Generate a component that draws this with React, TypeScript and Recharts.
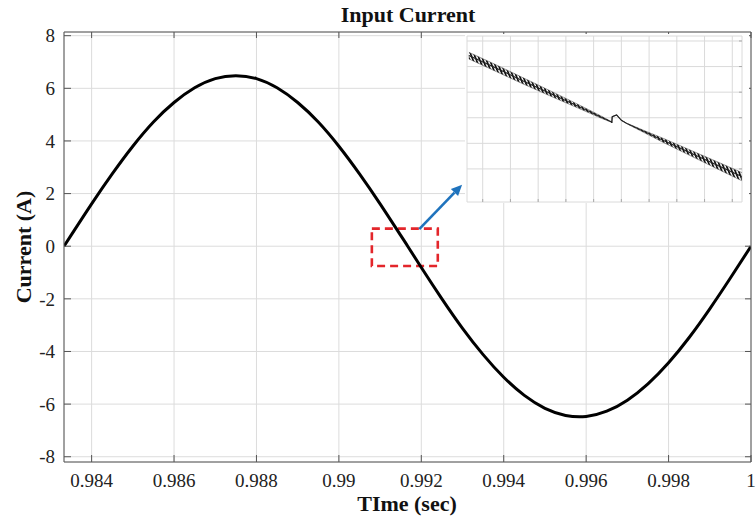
import React from 'react';
import {
  LineChart,
  ComposedChart,
  Line,
  Area,
  XAxis,
  YAxis,
  CartesianGrid,
  ReferenceArea,
  ReferenceLine,
} from 'recharts';

// main trace: input current vs time
const TIME = [
  0.98333, 0.9835, 0.984, 0.9845, 0.985, 0.9855, 0.986, 0.9865, 0.987, 0.9875,
  0.988, 0.9885, 0.989, 0.9895, 0.99, 0.9905, 0.991, 0.9915, 0.99167, 0.992,
  0.9925, 0.993, 0.9935, 0.994, 0.9945, 0.995, 0.9955, 0.996, 0.9965, 0.997,
  0.9975, 0.998, 0.9985, 0.999, 0.9995, 1.0,
];
const CURRENT = [
  0, 0.41, 1.61, 2.75, 3.8, 4.72, 5.46, 6.02, 6.37, 6.48,
  6.37, 6.02, 5.46, 4.72, 3.8, 2.75, 1.61, 0.41, 0, -0.81,
  -2.0, -3.12, -4.12, -4.98, -5.67, -6.16, -6.43, -6.47, -6.27, -5.85,
  -5.23, -4.43, -3.47, -2.38, -1.21, 0,
];
const X_TICKS = [0.984, 0.986, 0.988, 0.99, 0.992, 0.994, 0.996, 0.998, 1];
const Y_TICKS = [-8, -6, -4, -2, 0, 2, 4, 6, 8];

// zoomed inset (arbitrary grid units), centre of trace + ripple half-width
const INSET_X = [0.5, 1.5, 2.5, 3.5, 4.5, 5.3, 5.65, 5.655, 5.67, 5.83, 6.0, 6.19, 6.8, 7.5, 8.5, 9.5, 10.34];
const INSET_Y = [6.43, 5.93, 5.42, 4.92, 4.42, 4.01, 3.83, 3.8, 4.04, 4.11, 3.9, 3.78, 3.47, 3.12, 2.62, 2.12, 1.7];
const INSET_RIPPLE = [0.13, 0.13, 0.12, 0.1, 0.07, 0.04, 0.01, 0, 0, 0, 0, 0.01, 0.04, 0.08, 0.11, 0.14, 0.16];
const INSET_X_TICKS = [1, 2, 3, 4, 5, 6, 7, 8, 9, 10];
const INSET_Y_TICKS = [1, 2, 3, 4, 5, 6, 7];

const mainData = TIME.map((t, i) => ({ t, i: CURRENT[i] }));
const insetData = INSET_X.map((x, k) => ({
  x,
  y: INSET_Y[k],
  band: [INSET_Y[k] - INSET_RIPPLE[k], INSET_Y[k] + INSET_RIPPLE[k]],
}));

const FONT = '"Liberation Serif", "Times New Roman", serif';
const AXIS = '#555';
const GRID = '#dcdcdc';
const noLabel = () => <g />;

const XTick = (p: any) => (
  <text x={p.x} y={p.y} dy="0.71em" textAnchor="middle" fontFamily={FONT} fontSize={19} fill="#222">
    {p.payload.value}
  </text>
);
const YTick = (p: any) => (
  <text x={p.x} y={p.y} dy="0.355em" textAnchor="end" fontFamily={FONT} fontSize={19} fill="#222">
    {p.payload.value}
  </text>
);

const Arrow = (p: any) => {
  const { x1, y1, x2, y2 } = p;
  const a = Math.atan2(y2 - y1, x2 - x1);
  const L = 11;
  const W = 5;
  const bx = x2 - L * Math.cos(a);
  const by = y2 - L * Math.sin(a);
  const pts = `${x2},${y2} ${bx + W * Math.sin(a)},${by - W * Math.cos(a)} ${bx - W * Math.sin(a)},${by + W * Math.cos(a)}`;
  return (
    <g>
      <line x1={x1} y1={y1} x2={bx} y2={by} stroke="#1f73bd" strokeWidth={2.6} />
      <polygon points={pts} fill="#1f73bd" />
    </g>
  );
};

export default function App() {
  const xDom: [number, number] = [0.98333, 1];
  const yDom: [number, number] = [-8.2, 8.14];
  const ixDom: [number, number] = [0.434, 10.35];
  const iyDom: [number, number] = [0.707, 7.195];
  return (
    <div style={{ position: 'absolute', left: 0, top: 0, width: 756, height: 523, background: '#fff' }}>
      <svg width={0} height={0} style={{ position: 'absolute' }}>
        <defs>
          <pattern id="ripple" width={3.1} height={4} patternUnits="userSpaceOnUse" patternTransform="rotate(-22)">
            <rect x={0} y={0} width={1.7} height={4} fill="#111" />
          </pattern>
        </defs>
      </svg>

      <LineChart width={756} height={523} data={mainData} margin={{ top: 32, right: 5, bottom: 0, left: 0 }}>
        <CartesianGrid stroke={GRID} />
        <XAxis
          dataKey="t"
          type="number"
          domain={xDom}
          ticks={X_TICKS}
          allowDataOverflow
          height={61}
          tickLine={false}
          tickSize={6}
          tickMargin={6}
          axisLine={{ stroke: AXIS }}
          tick={XTick}
        />
        <XAxis xAxisId="bt" dataKey="t" type="number" domain={xDom} ticks={X_TICKS} allowDataOverflow mirror tick={noLabel} axisLine={false} tickSize={7} tickLine={{ stroke: AXIS }} />
        <XAxis xAxisId="top" orientation="top" dataKey="t" type="number" domain={xDom} ticks={X_TICKS} allowDataOverflow mirror tick={noLabel} axisLine={{ stroke: AXIS }} tickSize={6} tickLine={{ stroke: AXIS }} />
        <YAxis
          type="number"
          domain={yDom}
          ticks={Y_TICKS}
          allowDataOverflow
          width={64}
          tickLine={false}
          tickSize={4}
          tickMargin={5}
          axisLine={{ stroke: AXIS }}
          tick={YTick}
        />
        <YAxis yAxisId="lt" type="number" domain={yDom} ticks={Y_TICKS} allowDataOverflow mirror tick={noLabel} axisLine={false} tickSize={7} tickLine={{ stroke: AXIS }} />
        <YAxis yAxisId="right" orientation="right" type="number" domain={yDom} ticks={Y_TICKS} allowDataOverflow mirror tick={noLabel} axisLine={{ stroke: AXIS }} tickSize={6} tickLine={{ stroke: AXIS }} />
        <Line dataKey="i" type="natural" stroke="#000" strokeWidth={3} dot={false} isAnimationActive={false} />
        <ReferenceArea x1={0.9908} x2={0.9924} y1={-0.75} y2={0.67} fill="none" fillOpacity={0} stroke="#e3262b" strokeWidth={2.6} strokeDasharray="8 5" />
        <ReferenceLine
          segment={[
            { x: 0.99195, y: 0.65 },
            { x: 0.99299, y: 2.34 },
          ]}
          shape={Arrow}
        />
      </LineChart>

      <svg width={756} height={523} style={{ position: 'absolute', left: 0, top: 0, pointerEvents: 'none' }}>
        <text x={408} y={22} textAnchor="middle" fontFamily={FONT} fontWeight="bold" fontSize={22} fill="#111">
          Input Current
        </text>
        <text x={407} y={511} textAnchor="middle" fontFamily={FONT} fontWeight="bold" fontSize={22} fill="#111">
          TIme (sec)
        </text>
        <text transform="translate(31,247) rotate(-90)" textAnchor="middle" fontFamily={FONT} fontWeight="bold" fontSize={22} fill="#111">
          Current (A)
        </text>
      </svg>

      <div style={{ position: 'absolute', left: 465, top: 34, width: 284, height: 169, background: '#fff' }}>
        <ComposedChart width={284} height={169} data={insetData} margin={{ top: 2, right: 7, bottom: 1, left: 2 }}>
          <CartesianGrid stroke="#dadada" />
          <XAxis dataKey="x" type="number" domain={ixDom} ticks={INSET_X_TICKS} allowDataOverflow mirror tick={noLabel} axisLine={false} tickSize={3} tickLine={{ stroke: '#aaa' }} />
          <YAxis type="number" domain={iyDom} ticks={INSET_Y_TICKS} allowDataOverflow width={0} tick={noLabel} tickLine={false} axisLine={false} />
          <YAxis yAxisId="ir" orientation="right" type="number" domain={iyDom} ticks={INSET_Y_TICKS} allowDataOverflow mirror tick={noLabel} axisLine={false} tickSize={3} tickLine={{ stroke: '#aaa' }} />
          <Area dataKey="band" type="linear" stroke="#444" strokeWidth={0.5} fill="url(#ripple)" fillOpacity={1} isAnimationActive={false} />
          <Line dataKey="y" type="linear" stroke="#222" strokeWidth={1.1} dot={false} isAnimationActive={false} />
        </ComposedChart>
      </div>
    </div>
  );
}
